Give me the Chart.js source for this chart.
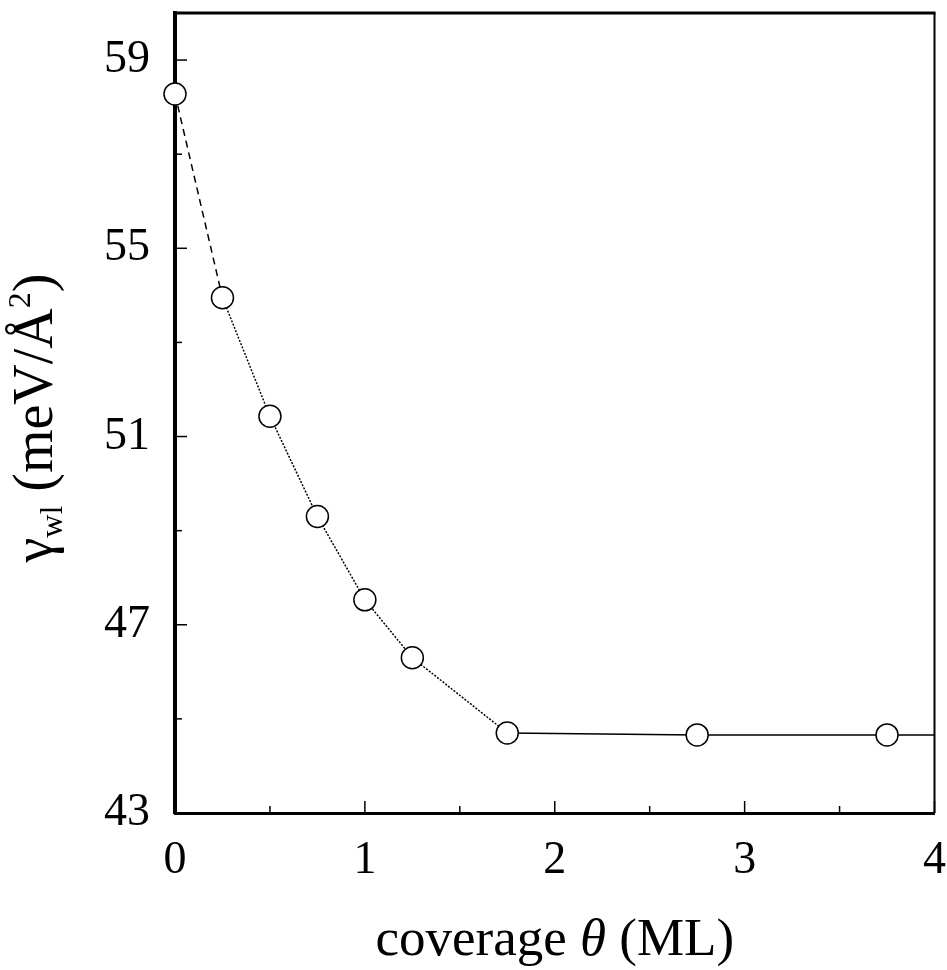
<!DOCTYPE html>
<html>
<head>
<meta charset="utf-8">
<script src="https://cdn.jsdelivr.net/npm/chart.js@4.4.0/dist/chart.umd.min.js"></script>
<style>
    html, body { margin: 0; padding: 0; background: #fff; }
</style>
</head>
<body>
<canvas id="chart" width="947" height="970"></canvas>
<script>
const coverage = [0, 0.25, 0.5, 0.75, 1.0, 1.25, 1.75, 2.75, 3.75];
const gamma = [58.28, 53.95, 51.43, 49.3, 47.53, 46.3, 44.7, 44.66, 44.66];
// the plateau line runs on to the frame edge
const tailCoverage = [4];
const tailGamma = [44.66];

const xTicks = [0, 1, 2, 3, 4];
const xMinorTicks = [0.5, 1.5, 2.5, 3.5];
const yTicks = [43, 47, 51, 55, 59];
const yMinorTicks = [45, 49, 53, 57];

const SERIF = '"Liberation Serif", "Times New Roman", serif';

const lineX = coverage.concat(tailCoverage);
const lineY = gamma.concat(tailGamma);

// inner tick marks plus top/right edges of the frame
const frameAndTicks = {
    id: "frameAndTicks",
    beforeDatasetsDraw(chart) {
        const { ctx, chartArea: a, scales } = chart;
        const x = scales.x, y = scales.y;
        ctx.save();
        ctx.strokeStyle = "#000";
        ctx.lineWidth = 3;
        ctx.beginPath();
        ctx.moveTo(a.left - 2, a.top);
        ctx.lineTo(a.right + 1, a.top);
        ctx.stroke();
        ctx.lineWidth = 2;
        ctx.beginPath();
        ctx.moveTo(a.right, a.top);
        ctx.lineTo(a.right, a.bottom);
        ctx.stroke();

        ctx.lineWidth = 1.5;
        const vTick = (v, len) => {
            const px = x.getPixelForValue(v);
            ctx.beginPath();
            ctx.moveTo(px, a.bottom);
            ctx.lineTo(px, a.bottom - len);
            ctx.stroke();
        };
        const hTick = (v, len) => {
            const py = y.getPixelForValue(v);
            ctx.beginPath();
            ctx.moveTo(a.left, py);
            ctx.lineTo(a.left + len, py);
            ctx.stroke();
        };
        xTicks.forEach((v) => vTick(v, 12));
        xMinorTicks.forEach((v) => vTick(v, 7));
        yTicks.forEach((v) => hTick(v, 12));
        yMinorTicks.forEach((v) => hTick(v, 7));
        ctx.restore();
    },
    afterDraw(chart) {
        const { ctx, chartArea: a } = chart;
        ctx.save();
        ctx.fillStyle = "#000";
        ctx.textBaseline = "alphabetic";

        // x title: coverage θ (ML)
        const big = "53px " + SERIF;
        const bigIt = "italic 53px " + SERIF;
        const xParts = [
            ["coverage ", big],
            ["\u03b8", bigIt],
            [" (ML)", big],
        ];
        let w = 0;
        xParts.forEach(([t, f]) => { ctx.font = f; w += ctx.measureText(t).width; });
        let cx = (a.left + a.right) / 2 - w / 2;
        xParts.forEach(([t, f]) => {
            ctx.font = f;
            ctx.fillText(t, cx, 955);
            cx += ctx.measureText(t).width;
        });

        // y title: γwl (meV/Å²), rotated
        const yBig = "56px " + SERIF;
        const yParts = [
            ["\u03b3", yBig, 0],
            ["wl", "32px " + SERIF, 10],
            [" (meV/\u00c5", yBig, 0],
            ["2", "32px " + SERIF, -22],
            [")", yBig, 0],
        ];
        w = 0;
        yParts.forEach(([t, f]) => { ctx.font = f; w += ctx.measureText(t).width; });
        ctx.translate(52, (a.top + a.bottom) / 2 + 5);
        ctx.rotate(-Math.PI / 2);
        let cy = -w / 2;
        yParts.forEach(([t, f, dy]) => {
            ctx.font = f;
            ctx.fillText(t, cy, dy);
            cy += ctx.measureText(t).width;
        });
        ctx.restore();
    },
};

new Chart(document.getElementById("chart").getContext("2d"), {
    type: "line",
    data: {
        datasets: [
            {
                data: lineX.map((c, i) => ({ x: c, y: lineY[i] })),
                borderColor: "#000",
                borderWidth: 1.5,
                pointRadius: (ctx) => (ctx.dataIndex < coverage.length ? 11 : 0),
                pointBorderWidth: 1.5,
                pointBorderColor: "#000",
                pointBackgroundColor: "#fff",
                tension: 0,
                clip: false,
                segment: {
                    borderDash: (ctx) =>
                        ctx.p0DataIndex === 0 ? [7, 5] : ctx.p0DataIndex < 6 ? [2, 1.5] : undefined,
                },
            },
        ],
    },
    options: {
        responsive: false,
        animation: false,
        layout: { padding: { top: 13, right: 8, left: 0, bottom: 0 } },
        plugins: { legend: { display: false }, tooltip: { enabled: false } },
        scales: {
            x: {
                type: "linear",
                min: 0,
                max: 4,
                afterBuildTicks: (s) => { s.ticks = xTicks.map((v) => ({ value: v })); },
                afterFit: (s) => { s.height = 157; s.paddingLeft = 0; s.paddingRight = 0; },
                grid: { display: true, drawOnChartArea: false, drawTicks: false },
                border: { display: true, width: 3, color: "#000" },
                ticks: { color: "#000", padding: 20, maxRotation: 0, font: { family: SERIF, size: 46 } },
            },
            y: {
                type: "linear",
                min: 43,
                max: 60,
                afterBuildTicks: (s) => { s.ticks = yTicks.map((v) => ({ value: v })); },
                afterFit: (s) => { s.width = 175; s.paddingTop = 0; s.paddingBottom = 0; },
                grid: { display: true, drawOnChartArea: false, drawTicks: false },
                border: { display: true, width: 4, color: "#000" },
                ticks: { color: "#000", padding: 25, font: { family: SERIF, size: 46 } },
            },
        },
    },
    plugins: [frameAndTicks],
});
</script>
</body>
</html>
